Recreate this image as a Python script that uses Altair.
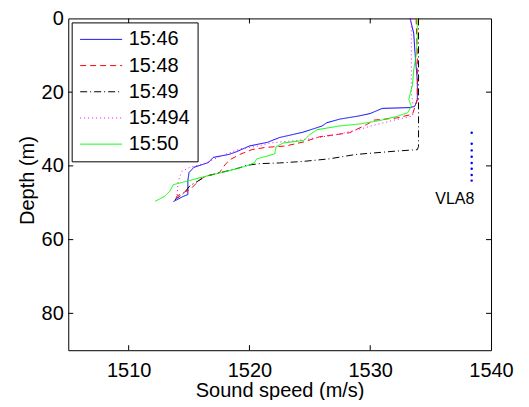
import altair as alt
import pandas as pd

# ---------------- data ----------------
series_names = ["15:46", "15:48", "15:49", "15:494", "15:50"]
series_colors = ["#0000ff", "#ff0000", "#000000", "#ff00ff", "#00ff00"]
series_dashes = [[1, 0], [6, 4], [7, 3, 1, 3], [1, 3], [1, 0]]

speed_1546 = [1533.3, 1533.6, 1533.7, 1533.8, 1533.9, 1533.9, 1533.7, 1533.3, 1531.0, 1530.0,
              1529.0, 1527.5, 1526.4, 1526.0, 1524.4, 1522.5, 1521.5, 1520.0, 1518.9, 1518.3,
              1517.0, 1516.6, 1515.4, 1515.0, 1514.9, 1514.9, 1514.5, 1513.7]
depth_1546 = [0, 4, 9, 13, 17, 22, 23.8, 24.2, 24.4, 25.8,
              26.5, 27.3, 28.3, 29.2, 30.9, 32.3, 33.6, 34.6, 36.2, 36.9,
              37.7, 39.1, 40.4, 41.8, 44, 47.8, 48.3, 49.7]

speed_1548 = [1533.8, 1533.9, 1533.9, 1533.5, 1532.2, 1530.3, 1529.7, 1528.3, 1527.2, 1525.8,
              1524.5, 1523.0, 1521.3, 1520.2, 1519.2, 1518.4, 1518.0, 1517.5, 1516.4, 1515.9,
              1515.1, 1514.5, 1514.0, 1513.8]
depth_1548 = [0, 10, 22, 26, 27, 27.6, 28.8, 31, 31.5, 32.1,
              33.5, 34.6, 35, 35.6, 36.9, 38.3, 39.6, 41.9, 42.8, 43.7,
              46.4, 47.3, 48.2, 49.6]

speed_1549 = [1534.0, 1534.0, 1534.0, 1534.0, 1534.0, 1533.9, 1532.1, 1528.8, 1526.6, 1524.4,
              1522.5, 1520.8, 1519.7, 1519.2, 1518.0, 1516.4, 1515.5, 1515.1, 1514.6, 1514.2,
              1513.7]
depth_1549 = [0, 10, 20, 30, 34.7, 35.6, 36.0, 36.9, 38.1, 38.8,
              39.2, 39.4, 39.9, 40.5, 41.5, 42.8, 44.6, 45.3, 47.3, 48.3,
              49.5]

speed_15494 = [1533.4, 1533.4, 1533.4, 1533.6, 1533.5, 1532.1, 1530.5, 1529.4, 1527.3, 1524.5,
               1521.7, 1520.6, 1519.2, 1517.6, 1516.4, 1515.0, 1514.4, 1514.1, 1514.0, 1513.9]
depth_15494 = [0, 10, 20, 24.8, 26.5, 27.5, 28.8, 29.8, 31.5, 32.9,
               33.8, 34.7, 35.4, 37.4, 39.2, 40.5, 41.5, 44.2, 48.2, 49.6]

speed_1550 = [1533.9, 1533.9, 1533.8, 1533.6, 1533.5, 1533.3, 1533.2, 1533.4, 1533.1, 1532.3,
              1530.8, 1529.2, 1527.4, 1525.6, 1525.0, 1524.5, 1522.8, 1522.2, 1522.1, 1521.4,
              1520.6, 1520.4, 1519.7, 1518.1, 1516.4, 1513.7, 1513.4, 1513.0, 1512.2]
depth_1550 = [0, 5, 10, 14, 18, 20.5, 22, 23.8, 25.6, 26.5,
              27.7, 28.6, 29.2, 30.2, 31.5, 33.1, 33.8, 34.8, 36.7, 37.4,
              38.1, 39.2, 40.1, 41.5, 42.8, 45.1, 46.9, 48.2, 49.6]

vla_speed = [1538.4, 1538.4, 1538.4, 1538.4, 1538.4, 1538.4, 1538.4, 1538.4]
vla_depth = [31.0, 34.0, 35.8, 37.5, 39.2, 40.8, 42.5, 44.0]

label_text = ["VLA8"]
label_speed = [1537.0]
label_depth = [48.9]

x_ticks = [1510, 1520, 1530]
x_labels = [1510, 1520, 1530, 1540]
y_ticks = [20, 40, 60, 80]
y_labels = [0, 20, 40, 60, 80]

# ---------------- tables ----------------
all_speeds = [speed_1546, speed_1548, speed_1549, speed_15494, speed_1550]
all_depths = [depth_1546, depth_1548, depth_1549, depth_15494, depth_1550]
rows = []
for name, sp, dp in zip(series_names, all_speeds, all_depths):
    for i, (s, d) in enumerate(zip(sp, dp)):
        rows.append({"series": name, "speed": s, "depth": d, "idx": i})
df = pd.DataFrame(rows)
vla_df = pd.DataFrame({"speed": vla_speed, "depth": vla_depth})
lab_df = pd.DataFrame({"speed": label_speed, "depth": label_depth, "text": label_text})
xt_df = pd.DataFrame({"speed": x_ticks})
yt_df = pd.DataFrame({"depth": y_ticks})

W, H = 423, 332
FONT = "Liberation Sans"
xscale = alt.Scale(domain=[1505, 1540], nice=False, zero=False)
yscale = alt.Scale(domain=[0, 90], nice=False, zero=False, reverse=True)
xaxis = alt.Axis(values=x_labels, format="d", labelPadding=10, titleY=46, titleBaseline="alphabetic")
yaxis = alt.Axis(values=y_labels, format="d", labelPadding=5, titleX=-35, titleY=161.7,
                 titleBaseline="alphabetic", titleAngle=270)
X = alt.X("speed:Q", scale=xscale, axis=xaxis, title="Sound speed (m/s)")
Y = alt.Y("depth:Q", scale=yscale, axis=yaxis, title="Depth (m)")

legend = alt.Legend(
    title=None, orient="none", legendX=3.4, legendY=4,
    symbolType="stroke", symbolSize=1764, symbolStrokeWidth=1,
    labelFontSize=20, labelFont=FONT, labelColor="black",
    clipHeight=20, rowPadding=6.2, padding=7, symbolOffset=1, labelOffset=6,
    strokeColor="black", fillColor="white", cornerRadius=0,
)

lines = alt.Chart(df).mark_line(strokeWidth=1).encode(
    x=X, y=Y,
    color=alt.Color("series:N", scale=alt.Scale(domain=series_names, range=series_colors), legend=legend),
    strokeDash=alt.StrokeDash("series:N", scale=alt.Scale(domain=series_names, range=series_dashes), legend=legend),
    order=alt.Order("idx:Q"),
)

points = alt.Chart(vla_df).mark_circle(size=6, color="#0000ff", opacity=1).encode(x=X, y=Y)

label = alt.Chart(lab_df).mark_text(fontSize=16, font=FONT, color="black", align="center",
                                    baseline="middle").encode(x=X, y=Y, text="text:N")

tick_b = alt.Chart(xt_df).mark_rule(color="black", strokeWidth=1).encode(
    x=X, y=alt.value(H - 5), y2=alt.value(H))
tick_t = alt.Chart(xt_df).mark_rule(color="black", strokeWidth=1).encode(
    x=X, y=alt.value(0.01), y2=alt.value(5))
tick_l = alt.Chart(yt_df).mark_rule(color="black", strokeWidth=1).encode(
    y=Y, x=alt.value(0.01), x2=alt.value(5))
tick_r = alt.Chart(yt_df).mark_rule(color="black", strokeWidth=1).encode(
    y=Y, x=alt.value(W - 5), x2=alt.value(W))

chart = alt.layer(lines, points, label, tick_b, tick_t, tick_l, tick_r).properties(
    width=W, height=H,
    autosize=alt.AutoSizeParams(type="none"),
    padding={"left": 60.3, "top": 10.3, "right": 30, "bottom": 50},
).configure_view(
    stroke="black", strokeWidth=1,
).configure_axis(
    domain=False, ticks=False, grid=False, labelFlush=False, labelOverlap=False, labelBound=False,
    labelFont=FONT, labelFontSize=20, labelColor="black",
    titleFont=FONT, titleFontSize=20, titleColor="black", titleFontWeight="normal",
)

chart.save("out.html", embed_options={"renderer": "svg", "actions": False})
